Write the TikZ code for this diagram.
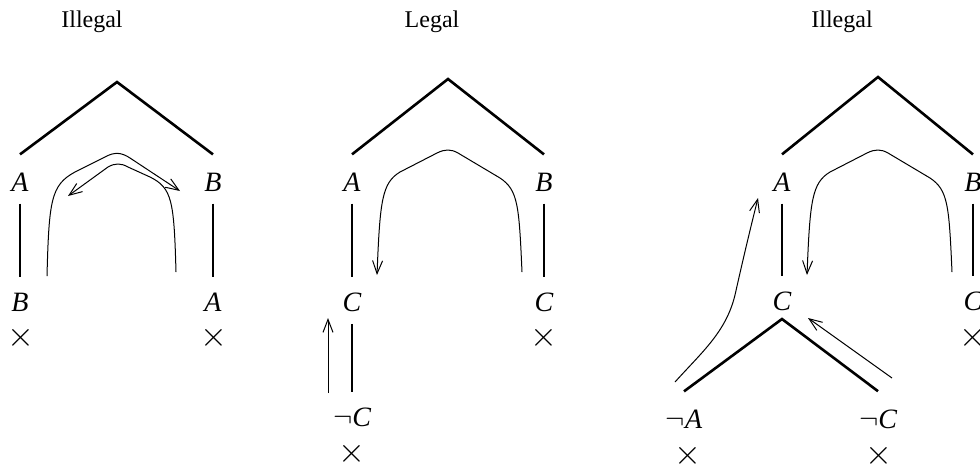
\documentclass[tikz,border=0pt]{standalone}
\usepackage{fontspec}
\setmainfont{Liberation Serif}
\usetikzlibrary{arrows.meta}
\tikzset{
  ttl/.style={font=\fontsize{12}{14}\selectfont, inner sep=0pt},
  lit/.style={font=\fontsize{14}{16}\selectfont\itshape, inner sep=0pt},
  cross/.style={font=\fontsize{17}{19}\selectfont, inner sep=0pt},
  tree/.style={line width=1.3pt},
  stem/.style={tree, shorten <=6pt, shorten >=7.5pt},
  trace/.style={line width=0.5pt, -{Straight Barb[length=6.5pt,width=5pt]}},
}

\begin{document}
\begin{tikzpicture}[x=0.5pt,y=-0.5pt]
\useasboundingbox (0,0) rectangle (980,468);

% ---------- titles ----------
\node[ttl] (t1) at (92,22) {Illegal};
\node[ttl] (t2) at (432,22) {Legal};
\node[ttl] (t3) at (842,22) {Illegal};

% ---------- left tableau ----------
\coordinate (p1) at (117,82);
\node[lit] (a1)  at (20,182)  {A};
\node[lit] (b1)  at (213,182) {B};
\node[lit] (b1l) at (20,302)  {B};
\node[lit] (a1l) at (213,302) {A};
\node[cross] (x1a) at (21,338)  {$\times$};
\node[cross] (x1b) at (214,338) {$\times$};
\draw[tree] ([yshift=9pt]a1.north) -- (p1) -- ([yshift=9pt]b1.north);
\draw[stem] (a1) -- (b1l); \draw[stem] (b1) -- (a1l);
\draw[trace] (47,276) .. controls (49,200) and (51,185) .. (75,172)
  -- (105,157) .. controls (114,152) and (121,152) .. (130,158) -- (180,191);
\draw[trace] (176,272) .. controls (174,200) and (172,188) .. (150,177)
  -- (128,167) .. controls (121,163) and (115,163) .. (108,167) -- (68,196);

% ---------- middle tableau ----------
\coordinate (p2) at (448,79);
\node[lit] (a2)  at (352,182) {A};
\node[lit] (b2)  at (544,182) {B};
\node[lit] (c2)  at (352,302) {C};
\node[lit] (c2r) at (544,302) {C};
\node[lit] (n2)  at (352,417) {$\neg$C};
\node[cross] (x2a) at (544,338) {$\times$};
\node[cross] (x2b) at (352,454) {$\times$};
\draw[tree] ([yshift=9pt]a2.north) -- (p2) -- ([yshift=9pt]b2.north);
\draw[stem] (a2) -- (c2); \draw[stem] (b2) -- (c2r);
\draw[stem,line width=0.8pt] (c2) -- (n2);
\draw[trace] (522,272) .. controls (519,205) and (518,190) .. (500,178)
  -- (458,153) .. controls (451,149) and (445,149) .. (437,153)
  -- (400,172) .. controls (382,183) and (380,200) .. (377,275);
\draw[trace] (328,393) -- (328,318);

% ---------- right tableau ----------
\coordinate (p3) at (878,77);
\coordinate (q3) at (782,319);
\node[lit] (a3)  at (782,182) {A};
\node[lit] (b3)  at (973,182) {B};
\node[lit] (c3)  at (782,301) {C};
\node[lit] (c3r) at (973,301) {C};
\node[lit] (n3a) at (684,419) {$\neg$A};
\node[lit] (n3c) at (878,419) {$\neg$C};
\node[cross] (x3a) at (973,338) {$\times$};
\node[cross] (x3b) at (688,456) {$\times$};
\node[cross] (x3c) at (879,456) {$\times$};
\draw[tree] ([yshift=9pt]a3.north) -- (p3) -- ([yshift=9pt]b3.north);
\draw[stem,line width=0.8pt] (a3) -- (c3);
\draw[stem] (b3) -- (c3r);
\draw[tree] ([yshift=9pt]n3a.north) -- (q3) -- ([yshift=9pt]n3c.north);
\draw[trace] (952,272) .. controls (949,205) and (948,190) .. (930,178)
  -- (888,153) .. controls (881,149) and (875,149) .. (867,153)
  -- (830,172) .. controls (812,183) and (810,200) .. (807,275);
\draw[trace] (675,382) .. controls (702,352) and (726,332) .. (735,295)
  .. controls (744,255) and (750,230) .. (758,198);
\draw[trace] (892,378) -- (808,318);
\end{tikzpicture}
\end{document}
